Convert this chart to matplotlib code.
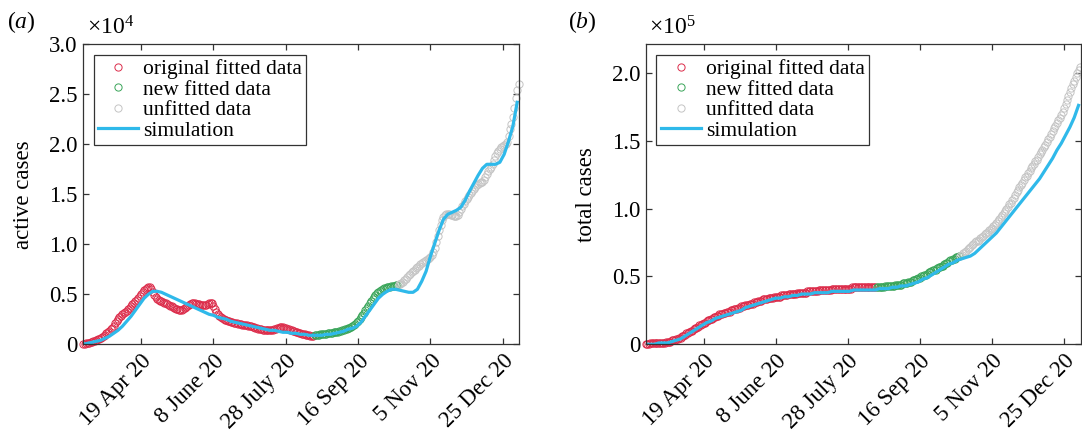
import numpy as np
import matplotlib
matplotlib.use("Agg")
import matplotlib.pyplot as plt
from matplotlib.transforms import ScaledTranslation

plt.rcParams['font.family'] = ['Liberation Serif', 'DejaVu Serif']
plt.rcParams['mathtext.fontset'] = 'custom'
plt.rcParams['mathtext.rm'] = 'Liberation Serif'
plt.rcParams['mathtext.it'] = 'Liberation Serif:italic'

# day 0 = 10 Mar 2020, daily data up to 5 Jan 2021
start = np.datetime64('2020-03-10')

# active cases (x10^4)
active_orig = [
    0.00, 0.00, 0.01, 0.01, 0.01, 0.02, 0.02, 0.03, 0.03, 0.04,
    0.05, 0.05, 0.06, 0.07, 0.08, 0.09, 0.11, 0.12, 0.13, 0.15,
    0.16, 0.18, 0.21, 0.23, 0.25, 0.27, 0.28, 0.30, 0.31, 0.32,
    0.33, 0.35, 0.36, 0.38, 0.40, 0.41, 0.43, 0.44, 0.46, 0.48,
    0.50, 0.52, 0.54, 0.55, 0.56, 0.57, 0.57, 0.55, 0.52, 0.49,
    0.47, 0.45, 0.44, 0.43, 0.43, 0.42, 0.41, 0.41, 0.40, 0.39,
    0.38, 0.38, 0.37, 0.36, 0.35, 0.35, 0.34, 0.34, 0.34, 0.35,
    0.36, 0.37, 0.38, 0.39, 0.40, 0.41, 0.41, 0.41, 0.40, 0.40,
    0.40, 0.39, 0.39, 0.39, 0.39, 0.39, 0.40, 0.41, 0.41, 0.41,
    0.38, 0.35, 0.32, 0.30, 0.28, 0.27, 0.26, 0.25, 0.24, 0.24,
    0.23, 0.23, 0.22, 0.22, 0.21, 0.21, 0.21, 0.20, 0.20, 0.20,
    0.19, 0.19, 0.19, 0.19, 0.18, 0.18, 0.18, 0.17, 0.17, 0.16,
    0.16, 0.15, 0.15, 0.15, 0.14, 0.14, 0.14, 0.14, 0.14, 0.14,
    0.14, 0.14, 0.15, 0.15, 0.16, 0.16, 0.17, 0.17, 0.17, 0.16,
    0.16, 0.15, 0.15, 0.14, 0.14, 0.13, 0.13, 0.12, 0.12, 0.11,
    0.11, 0.10, 0.10, 0.10, 0.09, 0.09, 0.09, 0.08, 0.08, 0.08]
active_new = [
    0.09, 0.09, 0.09, 0.09, 0.10, 0.10, 0.10, 0.10, 0.10, 0.11,
    0.11, 0.11, 0.11, 0.12, 0.12, 0.12, 0.12, 0.13, 0.13, 0.14,
    0.14, 0.15, 0.15, 0.16, 0.16, 0.17, 0.18, 0.19, 0.20, 0.22,
    0.23, 0.25, 0.27, 0.29, 0.31, 0.34, 0.36, 0.38, 0.41, 0.43,
    0.45, 0.47, 0.49, 0.51, 0.52, 0.53, 0.54, 0.55, 0.56, 0.56,
    0.57, 0.57, 0.57, 0.58, 0.58, 0.58, 0.59, 0.59]
active_unfit = [
    0.60, 0.60,
    0.61, 0.62, 0.64, 0.65, 0.67, 0.69, 0.70, 0.72, 0.73, 0.74,
    0.76, 0.77, 0.78, 0.80, 0.81, 0.82, 0.83, 0.84, 0.85, 0.86,
    0.87, 0.89, 0.92, 0.96, 1.02, 1.08, 1.14, 1.19, 1.24, 1.27,
    1.29, 1.30, 1.30, 1.30, 1.29, 1.29, 1.28, 1.28, 1.28, 1.29,
    1.32, 1.35, 1.38, 1.40, 1.43, 1.45, 1.47, 1.49, 1.51, 1.53,
    1.55, 1.57, 1.59, 1.60, 1.61, 1.62, 1.62, 1.64, 1.67, 1.70,
    1.73, 1.75, 1.77, 1.80, 1.84, 1.88, 1.91, 1.93, 1.95, 1.97,
    1.98, 1.99, 2.00, 2.02, 2.08, 2.15, 2.20, 2.27, 2.36, 2.46,
    2.54, 2.60]
# simulation, every 3 days from day 0
active_sim = [
    0.00, 0.01, 0.02, 0.03, 0.04, 0.06, 0.08, 0.11, 0.14, 0.18,
    0.23, 0.28, 0.34, 0.40, 0.46, 0.50, 0.53, 0.53, 0.52, 0.50,
    0.48, 0.46, 0.44, 0.42, 0.40, 0.38, 0.36, 0.34, 0.32, 0.30,
    0.29, 0.27, 0.26, 0.25, 0.23, 0.22, 0.21, 0.20, 0.19, 0.18,
    0.17, 0.16, 0.15, 0.14, 0.14, 0.13, 0.12, 0.12, 0.11, 0.11,
    0.10, 0.10, 0.09, 0.09, 0.09, 0.09, 0.10, 0.10, 0.11, 0.12,
    0.13, 0.15, 0.16, 0.18, 0.22, 0.28, 0.34, 0.40, 0.46, 0.50,
    0.53, 0.55, 0.55, 0.54, 0.53, 0.52, 0.52, 0.55, 0.63, 0.73,
    0.88, 1.01, 1.14, 1.25, 1.30, 1.32, 1.34, 1.37, 1.44, 1.53,
    1.61, 1.69, 1.76, 1.80, 1.80, 1.80, 1.82, 1.90, 2.03, 2.18,
    2.42]

# total cases (x10^5)
total_orig = [
    0.00, 0.00, 0.00, 0.01, 0.01, 0.01, 0.01, 0.01, 0.01, 0.01,
    0.01, 0.01, 0.01, 0.01, 0.02, 0.02, 0.02, 0.02, 0.03, 0.03,
    0.03, 0.04, 0.04, 0.05, 0.05, 0.06, 0.06, 0.07, 0.08, 0.08,
    0.09, 0.10, 0.10, 0.11, 0.12, 0.12, 0.13, 0.14, 0.14, 0.15,
    0.16, 0.16, 0.17, 0.18, 0.18, 0.19, 0.19, 0.20, 0.20, 0.21,
    0.21, 0.22, 0.22, 0.22, 0.23, 0.23, 0.24, 0.24, 0.24, 0.25,
    0.25, 0.26, 0.26, 0.26, 0.27, 0.27, 0.28, 0.28, 0.28, 0.29,
    0.29, 0.29, 0.30, 0.30, 0.30, 0.31, 0.31, 0.31, 0.32, 0.32,
    0.32, 0.33, 0.33, 0.33, 0.33, 0.34, 0.34, 0.34, 0.34, 0.35,
    0.35, 0.35, 0.35, 0.35, 0.36, 0.36, 0.36, 0.36, 0.36, 0.37,
    0.37, 0.37, 0.37, 0.37, 0.37, 0.38, 0.38, 0.38, 0.38, 0.38,
    0.38, 0.38, 0.39, 0.39, 0.39, 0.39, 0.39, 0.39, 0.39, 0.39,
    0.40, 0.40, 0.40, 0.40, 0.40, 0.40, 0.40, 0.40, 0.40, 0.41,
    0.41, 0.41, 0.41, 0.41, 0.41, 0.41, 0.41, 0.41, 0.41, 0.41,
    0.41, 0.41, 0.41, 0.42, 0.42, 0.42, 0.42, 0.42, 0.42, 0.42,
    0.42, 0.42, 0.42, 0.42, 0.42, 0.42, 0.42, 0.42, 0.42, 0.42]
total_new = [
    0.42, 0.42, 0.42, 0.42, 0.42, 0.42, 0.43, 0.43, 0.43, 0.43,
    0.43, 0.43, 0.43, 0.44, 0.44, 0.44, 0.44, 0.44, 0.45, 0.45,
    0.45, 0.45, 0.46, 0.46, 0.46, 0.47, 0.47, 0.48, 0.48, 0.49,
    0.49, 0.50, 0.50, 0.51, 0.51, 0.52, 0.53, 0.53, 0.54, 0.55,
    0.55, 0.55, 0.56, 0.57, 0.57, 0.58, 0.58, 0.59, 0.60, 0.60,
    0.61, 0.62, 0.62, 0.63, 0.63, 0.64, 0.64, 0.65]
total_unfit = [
    0.65, 0.66,
    0.67, 0.68, 0.69, 0.70, 0.71, 0.72, 0.73, 0.74, 0.75, 0.76,
    0.76, 0.77, 0.78, 0.79, 0.80, 0.81, 0.82, 0.83, 0.84, 0.85,
    0.86, 0.87, 0.88, 0.89, 0.91, 0.92, 0.94, 0.95, 0.97, 0.98,
    1.00, 1.01, 1.03, 1.04, 1.06, 1.08, 1.10, 1.12, 1.14, 1.16,
    1.17, 1.19, 1.21, 1.23, 1.24, 1.26, 1.28, 1.30, 1.31, 1.33,
    1.35, 1.36, 1.38, 1.40, 1.42, 1.43, 1.45, 1.47, 1.49, 1.51,
    1.53, 1.55, 1.57, 1.59, 1.61, 1.63, 1.65, 1.67, 1.69, 1.71,
    1.74, 1.77, 1.80, 1.83, 1.86, 1.89, 1.92, 1.94, 1.97, 2.00,
    2.02, 2.04]
total_sim = [
    0.00, 0.00, 0.00, 0.01, 0.01, 0.01, 0.02, 0.03, 0.04, 0.06,
    0.08, 0.10, 0.12, 0.14, 0.16, 0.17, 0.19, 0.20, 0.21, 0.22,
    0.23, 0.24, 0.25, 0.27, 0.28, 0.29, 0.30, 0.31, 0.32, 0.33,
    0.34, 0.34, 0.35, 0.35, 0.36, 0.36, 0.37, 0.37, 0.37, 0.38,
    0.38, 0.38, 0.38, 0.39, 0.39, 0.39, 0.39, 0.39, 0.40, 0.40,
    0.40, 0.40, 0.40, 0.40, 0.41, 0.41, 0.41, 0.42, 0.42, 0.43,
    0.43, 0.44, 0.45, 0.46, 0.48, 0.49, 0.51, 0.53, 0.55, 0.57,
    0.59, 0.60, 0.62, 0.63, 0.64, 0.65, 0.67, 0.70, 0.73, 0.76,
    0.79, 0.82, 0.86, 0.90, 0.94, 0.98, 1.02, 1.06, 1.10, 1.14,
    1.18, 1.22, 1.27, 1.32, 1.37, 1.43, 1.48, 1.54, 1.60, 1.67,
    1.76]

tick_dates = np.array(['2020-04-19', '2020-06-08', '2020-07-28',
                       '2020-09-16', '2020-11-05', '2020-12-25'], dtype='datetime64[D]')
tick_labels = ['19 Apr 20', '8 June 20', '28 July 20', '16 Sep 20', '5 Nov 20', '25 Dec 20']

red = '#dc2d4b'
green = '#3aa55a'
grey = '#c4c4c4'
blue = '#2fb9ea'


def days(first, n, step=1):
    return start + np.timedelta64(first, 'D') + np.arange(n) * np.timedelta64(step, 'D')


fig = plt.figure(figsize=(10.82, 4.34), dpi=100)
ax1 = fig.add_axes([0.077, 0.2067, 0.403, 0.6912])
ax2 = fig.add_axes([0.597, 0.2067, 0.4018, 0.6912])

panels = [
    (ax1, active_orig, active_new, active_unfit, active_sim, 'active cases',
     np.arange(0, 3.01, 0.5), (0, 3.0), r'$\times 10^{4}$', '(a)', 0.0195),
    (ax2, total_orig, total_new, total_unfit, total_sim, 'total cases',
     np.arange(0, 2.01, 0.5), (0, 2.21), r'$\times 10^{5}$', '(b)', 0.538),
]

for ax, orig, new, unfit, sim, ylab, yt, ylim, mult, tag, tagx in panels:
    n1, n2 = len(orig), len(new)
    mk = dict(ls='none', marker='o', mfc='none', ms=5.2, mew=0.7, clip_on=False)
    ax.plot(days(0, n1), orig, color=red, label='original fitted data', **mk)
    ax.plot(days(n1, n2), new, color=green, label='new fitted data', **mk)
    ax.plot(days(n1 + n2, len(unfit)), unfit, color=grey, label='unfitted data', **mk)
    ax.plot(days(0, len(sim), 3), sim, color=blue, lw=2.3, label='simulation')

    ax.set_xlim(start, start + np.timedelta64(301, 'D') + np.timedelta64(12, 'h'))
    ax.set_ylim(*ylim)
    ax.set_xticks(tick_dates)
    ax.set_xticklabels(tick_labels, rotation=45, ha='right', va='center',
                       rotation_mode='anchor', fontsize=16.5)
    ax.set_yticks(yt)
    ax.set_yticklabels(['0'] + ['%.1f' % v for v in yt[1:]], fontsize=16.5)
    ax.tick_params(direction='in', length=4, width=0.9, top=True, right=True,
                   color='#333333')
    ax.tick_params(axis='x', pad=10)
    ax.tick_params(axis='y', pad=4)
    for lab in ax.get_xticklabels():
        lab.set_transform(lab.get_transform() + ScaledTranslation(0.075, 0, fig.dpi_scale_trans))
    for s in ax.spines.values():
        s.set_color('#333333')
        s.set_linewidth(0.9)
    ax.set_ylabel(ylab, fontsize=16.5)
    ax.yaxis.set_label_coords(-0.112, 0.5)

    leg = ax.legend(loc='upper left', bbox_to_anchor=(0.024, 0.964), borderaxespad=0,
                    fontsize=15.5, frameon=True, fancybox=False, framealpha=1,
                    edgecolor='#333333', handlelength=1.85, handletextpad=0.25,
                    labelspacing=0.02, borderpad=0.2)
    leg.get_frame().set_linewidth(0.9)

    bb = ax.get_position()
    fig.text(bb.x0 + 0.003, 0.935, mult, fontsize=17, ha='left', va='center')
    fig.text(tagx, 0.95, r'$(\mathit{' + tag[1] + '})$', fontsize=17, ha='center', va='center')

fig.savefig('out.png', dpi=100)
